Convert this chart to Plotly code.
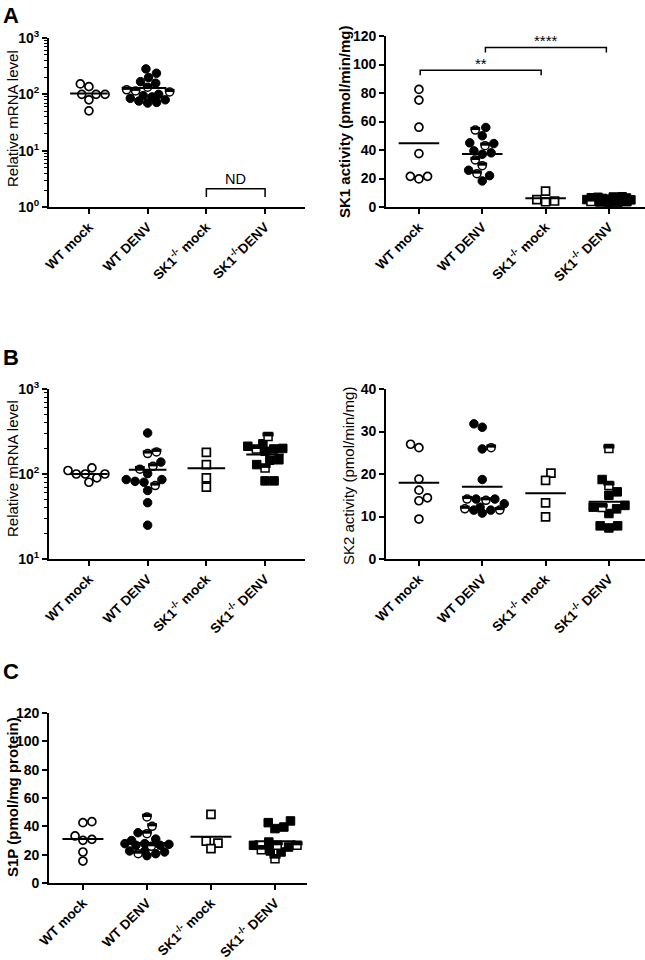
import math
import plotly.graph_objects as go

# ---------------- data ----------------
categories = ["WT mock", "WT DENV", "SK1<sup>-/-</sup> mock", "SK1<sup>-/-</sup> DENV"]
categories_a1 = ["WT mock", "WT DENV", "SK1<sup>-/-</sup> mock", "SK1<sup>-/-</sup>DENV"]
log_ticks_a = [1, 10, 100, 1000]
log_labels_a = ["10<sup>0</sup>", "10<sup>1</sup>", "10<sup>2</sup>", "10<sup>3</sup>"]
log_ticks_b = [10, 100, 1000]
log_labels_b = ["10<sup>1</sup>", "10<sup>2</sup>", "10<sup>3</sup>"]

# Panel A left: SK1 relative mRNA level
a1_wt_mock_open = [100, 137, 153, 100, 100, 80, 51]
a1_wt_denv_filled = [283, 237, 199, 168, 158, 100, 95, 90, 85, 80, 76, 72, 70]
a1_wt_denv_half = [134, 120, 115, 110]

# Panel A right: SK1 activity
a2_wt_mock_open = [82.5, 75, 56, 37.5, 21.5, 19.7, 21.5]
a2_wt_denv_filled = [55.8, 50, 45, 44.5, 39.4, 38, 37, 25.8, 22, 18.3]
a2_wt_denv_half = [54, 43, 33, 29, 23.4]
a2_ko_mock_open = [11.2, 5.2, 4.2, 3.7]
a2_ko_denv_filled = [7.2, 7, 6.8, 6.5, 6.3, 6, 5.7, 5.5, 5.2, 5, 4.7, 4.5, 4.2, 4, 3.7, 3.5, 3.2, 3]
a2_ko_denv_half = [3.8]

# Panel B left: SK2 relative mRNA level
b1_wt_mock_open = [118, 110, 100, 100, 100, 90, 80]
b1_wt_denv_filled = [304, 138, 101, 86, 86, 82, 80, 64, 46, 25]
b1_wt_denv_half = [182, 174, 123, 114, 73]
b1_ko_mock_open = [180, 129, 90, 70]
b1_ko_denv_filled = [227, 212, 200, 197, 185, 147, 145, 129, 83, 83]
b1_ko_denv_half = [277, 197, 118]

# Panel B right: SK2 activity
b2_wt_mock_open = [27, 26.2, 18.8, 16.2, 14.4, 13.7, 9.4]
b2_wt_denv_filled = [31.8, 31, 25.9, 18.7, 14.1, 14.1, 13, 12.2, 11.5, 11.5, 10.8]
b2_wt_denv_half = [26.2, 14.1, 13.8, 11.8, 11.5]
b2_ko_mock_open = [20.2, 18.5, 13.2, 9.9]
b2_ko_denv_filled = [18.7, 15.8, 15, 12.6, 12.2, 11.8, 10.7, 7.8, 7.8, 7.3]
b2_ko_denv_half = [26, 17.3, 12.1]

# Panel C: S1P
c_wt_mock_open = [43.3, 42.6, 33.2, 30.8, 30.1, 21.9, 15.5]
c_wt_denv_filled = [35.5, 31, 30, 27.8, 27.8, 27.3, 26.6, 26.6, 22.6, 22.6, 21.9, 20.7, 19.3]
c_wt_denv_half = [46.6, 40, 34.8, 25.9, 20.7]
c_ko_mock_open = [48.5, 29.6, 28.2, 24.2]
c_ko_denv_filled = [43.8, 42.6, 39.5, 38.4, 28.9, 26.6, 25.4, 22.6, 21.9]
c_ko_denv_half = [26.6, 26.6, 23.5, 17.2]

# ---------------- layout geometry ----------------
W, H = 645, 960
FONT = "Liberation Sans, Arial, sans-serif"

panels = {
    "a1": dict(px=(49, 305, 38, 207), xr=(-0.68, 3.68), yr=(0, 3), log=True),
    "a2": dict(px=(386, 645, 36, 207), xr=(-0.52, 3.57), yr=(0, 120), log=False),
    "b1": dict(px=(49, 305, 389, 559), xr=(-0.68, 3.68), yr=(1, 3), log=True),
    "b2": dict(px=(386, 645, 389, 559), xr=(-0.52, 3.57), yr=(0, 40), log=False),
    "c": dict(px=(49, 307, 713, 883), xr=(-0.53, 3.5), yr=(0, 120), log=False),
}
axis_ids = {"a1": "", "a2": "2", "b1": "3", "b2": "4", "c": "5"}

fig = go.Figure()


def y_scale(p):
    x0, x1, y0, y1 = p["px"]
    return (y1 - y0) / (p["yr"][1] - p["yr"][0])


def shift_up(v, p, dpx):
    """value that sits dpx pixels above v on panel p's y axis"""
    ys = y_scale(p)
    if p["log"]:
        return v * 10 ** (dpx / ys)
    return v + dpx / ys


def swarm(values, p, D=9.0, maxw=22.0):
    x0, x1, y0, y1 = p["px"]
    xs = (x1 - x0) / (p["xr"][1] - p["xr"][0])
    ys = y_scale(p)

    def ypx(v):
        return (math.log10(v) if p["log"] else v) * ys

    n = len(values)
    order = sorted(range(n), key=lambda i: values[i])
    placed = []
    offs = [0.0] * n
    side = 1
    for i in order:
        y = ypx(values[i])
        cands = {0.0}
        for xj, yj in placed:
            dy = y - yj
            if abs(dy) < D:
                dx = math.sqrt(D * D - dy * dy)
                cands.add(xj + dx)
                cands.add(xj - dx)

        def ok(c):
            return all((c - xj) ** 2 + (y - yj) ** 2 >= D * D - 1e-6 for xj, yj in placed)

        valid = [c for c in cands if abs(c) <= maxw and ok(c)]
        if valid:
            c = min(valid, key=lambda c: (round(abs(c), 3), -side * c))
        else:
            grid = [maxw * k / 10.0 for k in range(-10, 11)]
            c = max(grid, key=lambda c: (min((c - xj) ** 2 + (y - yj) ** 2 for xj, yj in placed), -abs(c)))
        if c != 0:
            side = -side
        placed.append((c, y))
        offs[i] = c / xs
    return offs


def add_group(pname, idx, shape, groups):
    p = panels[pname]
    ax = axis_ids[pname]
    allv = []
    kinds = []
    for vals, kind in groups:
        allv += vals
        kinds += [kind] * len(vals)
    offs = swarm(allv, p)
    common = dict(xaxis="x" + ax, yaxis="y" + ax, cliponaxis=False, hoverinfo="skip")
    for kind in ["open", "filled", "half"]:
        xs = [idx + o for o, k in zip(offs, kinds) if k == kind]
        ys = [v for v, k in zip(allv, kinds) if k == kind]
        if not xs:
            continue
        if kind == "open":
            marker = dict(symbol=shape, size=8, color="white", line=dict(color="black", width=1.7))
            fig.add_trace(go.Scatter(x=xs, y=ys, mode="markers", marker=marker, **common))
        elif kind == "filled":
            marker = dict(symbol=shape, size=8.5, color="black", line=dict(color="black", width=1))
            fig.add_trace(go.Scatter(x=xs, y=ys, mode="markers", marker=marker, **common))
        else:
            # half-filled: white body with black outline, upper half filled black
            marker = dict(symbol=shape, size=8, color="white", line=dict(color="black", width=1.5))
            fig.add_trace(go.Scatter(x=xs, y=ys, mode="markers", marker=marker, **common))
            if shape == "circle":
                hl, hw = 7, 3.2
            else:
                hl, hw = 8, 4
            ys_top = [shift_up(v, p, hw / 2.0) for v in ys]
            fig.add_trace(go.Scatter(x=xs, y=ys_top, mode="markers",
                                     marker=dict(symbol="line-ew", size=hl,
                                                 line=dict(color="black", width=hw)),
                                     **common))
    m = sum(allv) / len(allv)
    fig.add_trace(go.Scatter(x=[idx - 0.32, idx + 0.32], y=[m, m], mode="lines",
                             line=dict(color="black", width=2), **common))


add_group("a1", 0, "circle", [(a1_wt_mock_open, "open")])
add_group("a1", 1, "circle", [(a1_wt_denv_filled, "filled"), (a1_wt_denv_half, "half")])
add_group("a2", 0, "circle", [(a2_wt_mock_open, "open")])
add_group("a2", 1, "circle", [(a2_wt_denv_filled, "filled"), (a2_wt_denv_half, "half")])
add_group("a2", 2, "square", [(a2_ko_mock_open, "open")])
add_group("a2", 3, "square", [(a2_ko_denv_filled, "filled"), (a2_ko_denv_half, "half")])
add_group("b1", 0, "circle", [(b1_wt_mock_open, "open")])
add_group("b1", 1, "circle", [(b1_wt_denv_filled, "filled"), (b1_wt_denv_half, "half")])
add_group("b1", 2, "square", [(b1_ko_mock_open, "open")])
add_group("b1", 3, "square", [(b1_ko_denv_filled, "filled"), (b1_ko_denv_half, "half")])
add_group("b2", 0, "circle", [(b2_wt_mock_open, "open")])
add_group("b2", 1, "circle", [(b2_wt_denv_filled, "filled"), (b2_wt_denv_half, "half")])
add_group("b2", 2, "square", [(b2_ko_mock_open, "open")])
add_group("b2", 3, "square", [(b2_ko_denv_filled, "filled"), (b2_ko_denv_half, "half")])
add_group("c", 0, "circle", [(c_wt_mock_open, "open")])
add_group("c", 1, "circle", [(c_wt_denv_filled, "filled"), (c_wt_denv_half, "half")])
add_group("c", 2, "square", [(c_ko_mock_open, "open")])
add_group("c", 3, "square", [(c_ko_denv_filled, "filled"), (c_ko_denv_half, "half")])

# Brackets
fig.add_trace(go.Scatter(x=[2, 2, 3, 3], y=[1.5, 2.1, 2.1, 1.5], mode="lines",
                         line=dict(color="black", width=1.5), xaxis="x", yaxis="y",
                         cliponaxis=False, hoverinfo="skip"))
fig.add_trace(go.Scatter(x=[0.02, 0.02, 1.93, 1.93], y=[92.5, 96, 96, 92.5], mode="lines",
                         line=dict(color="black", width=1.5), xaxis="x2", yaxis="y2",
                         cliponaxis=False, hoverinfo="skip"))
fig.add_trace(go.Scatter(x=[1.05, 1.05, 2.96, 2.96], y=[108.5, 112, 112, 108.5], mode="lines",
                         line=dict(color="black", width=1.5), xaxis="x2", yaxis="y2",
                         cliponaxis=False, hoverinfo="skip"))

layout = dict(width=W, height=H, margin=dict(l=0, r=0, t=0, b=0, autoexpand=False),
              paper_bgcolor="white", plot_bgcolor="white", showlegend=False,
              font=dict(family=FONT, color="black"), template="none")

for pname, p in panels.items():
    ax = axis_ids[pname]
    x0, x1, y0, y1 = p["px"]
    cats = categories_a1 if pname == "a1" else categories
    layout["xaxis" + ax] = dict(
        domain=[x0 / W, x1 / W], range=list(p["xr"]), anchor="y" + ax, automargin=False,
        tickvals=[0, 1, 2, 3], ticktext=cats, tickangle=-45,
        tickfont=dict(size=13.5, family=FONT, weight="bold"),
        showline=True, linecolor="black", linewidth=1.8, ticks="outside", ticklen=5,
        tickwidth=1.5, tickcolor="black", showgrid=False, zeroline=False, fixedrange=True)
    yax = dict(
        domain=[1 - y1 / H, 1 - y0 / H], anchor="x" + ax, automargin=False,
        showline=True, linecolor="black", linewidth=1.8, ticks="outside", ticklen=5,
        tickwidth=1.5, tickcolor="black", showgrid=False, zeroline=False,
        tickfont=dict(size=14, family=FONT, weight="bold"), fixedrange=True)
    if p["log"]:
        yax.update(type="log", range=list(p["yr"]),
                   tickvals=log_ticks_a if pname == "a1" else log_ticks_b,
                   ticktext=log_labels_a if pname == "a1" else log_labels_b,
                   minor=dict(ticks="outside", ticklen=3, tickwidth=1, tickcolor="black",
                              dtick="D1", showgrid=False))
    else:
        yax.update(range=list(p["yr"]), dtick=20 if p["yr"][1] == 120 else 10)
    layout["yaxis" + ax] = yax

annotations = []
for letter, ytop in [("A", 1), ("B", 343), ("C", 657)]:
    annotations.append(dict(text="<b>%s</b>" % letter, x=1 / W, y=1 - ytop / H, xref="paper", yref="paper",
                            xanchor="left", yanchor="top", showarrow=False,
                            font=dict(size=22, family=FONT)))
ytitles = [
    ("Relative mRNA level", 12, 119, False),
    ("SK1 activity (pmol/min/mg)", 345, 121, True),
    ("Relative mRNA level", 12, 469, False),
    ("SK2 activity (pmol/min/mg)", 348, 476, False),
    ("S1P (pmol/mg protein)", 12, 797, True),
]
for t, xc, yc, bold in ytitles:
    annotations.append(dict(text=("<b>%s</b>" % t) if bold else t, x=xc / W, y=1 - yc / H,
                            xref="paper", yref="paper", xanchor="center", yanchor="middle",
                            textangle=-90, showarrow=False, font=dict(size=15, family=FONT)))
annotations.append(dict(text="ND", x=2.5, y=math.log10(2.1), xref="x", yref="y", xanchor="center",
                        yanchor="bottom", showarrow=False, yshift=0, font=dict(size=14.5, family=FONT)))
annotations.append(dict(text="**", x=0.98, y=96, xref="x2", yref="y2", xanchor="center",
                        yanchor="bottom", showarrow=False, yshift=-4, font=dict(size=15, family=FONT)))
annotations.append(dict(text="****", x=2.0, y=112, xref="x2", yref="y2", xanchor="center",
                        yanchor="bottom", showarrow=False, yshift=-4, font=dict(size=15, family=FONT)))
layout["annotations"] = annotations

fig.update_layout(**layout)
fig.write_html("out.html", config={"displayModeBar": False},
               post_script="document.body.style.margin='0px';document.body.style.overflow='hidden';")
